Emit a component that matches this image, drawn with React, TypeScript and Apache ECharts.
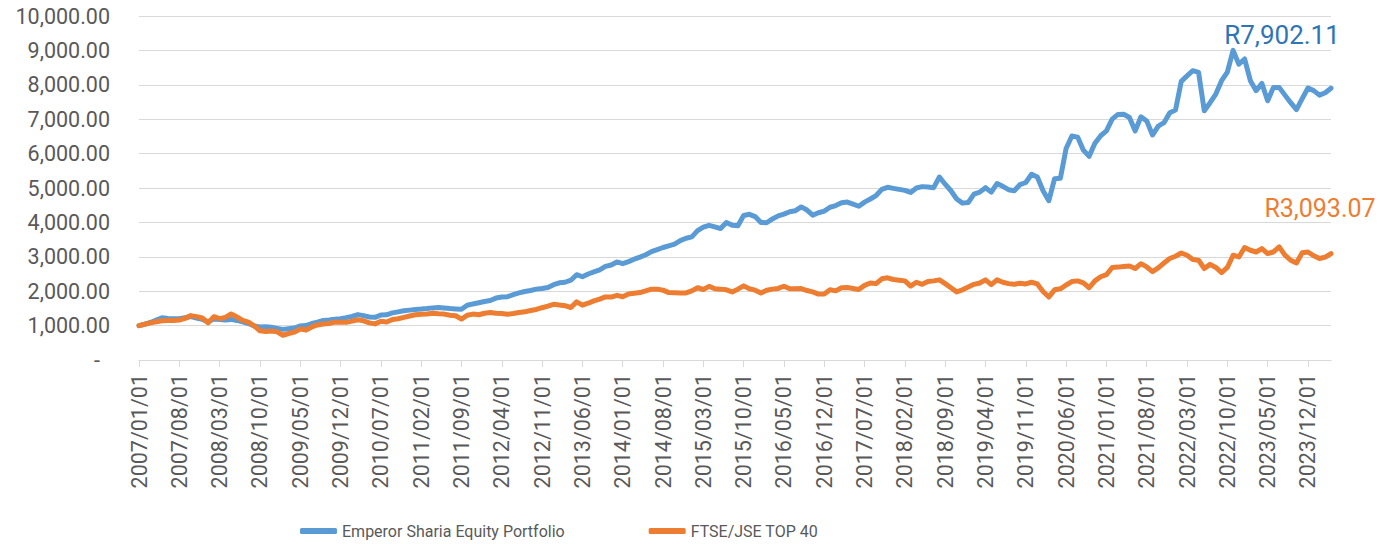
import React, { useEffect, useRef } from "react";
import * as echarts from "echarts";

const START_YEAR = 2007;
const MONTH_COUNT = 208;

const emperorValues: number[] = [
  // 2007
  1000, 1040, 1090, 1160, 1230, 1210, 1200, 1200, 1230, 1260, 1220, 1180,
  // 2008
  1110, 1190, 1180, 1160, 1180, 1150, 1110, 1060, 990, 960, 970, 950,
  // 2009
  920, 890, 910, 930, 990, 1000, 1060, 1100, 1150, 1165, 1185, 1200,
  // 2010
  1230, 1270, 1320, 1290, 1250, 1240, 1310, 1315, 1370, 1400, 1430, 1450,
  // 2011
  1470, 1480, 1495, 1515, 1525, 1510, 1495, 1485, 1475, 1590, 1630, 1665,
  // 2012
  1700, 1730, 1800, 1830, 1840, 1900, 1950, 1990, 2020, 2060, 2080, 2110,
  // 2013
  2190, 2245, 2260, 2320, 2480, 2420, 2500, 2560, 2620, 2720, 2760, 2850,
  // 2014
  2800, 2860, 2930, 2990, 3060, 3150, 3210, 3270, 3320, 3370, 3470, 3540,
  // 2015
  3580, 3760, 3860, 3915, 3870, 3820, 3995, 3920, 3900, 4200, 4235, 4170,
  // 2016
  4000, 3990, 4100, 4190, 4240, 4310, 4340, 4450, 4360, 4210, 4280, 4330,
  // 2017
  4440, 4490, 4570, 4590, 4530, 4470, 4590, 4680, 4780, 4960, 5020, 4990,
  // 2018
  4960, 4930, 4870, 5000, 5040, 5030, 5010, 5320, 5110, 4920, 4680, 4560,
  // 2019
  4580, 4820, 4880, 5010, 4880, 5130, 5050, 4950, 4920, 5100, 5160, 5400,
  // 2020
  5320, 4920, 4630, 5270, 5280, 6150, 6510, 6480, 6100, 5920, 6300, 6520,
  // 2021
  6660, 7000, 7140, 7145, 7050, 6660, 7070, 6950, 6540, 6800, 6900, 7190,
  // 2022
  7265, 8100, 8260, 8410, 8360, 7245, 7480, 7730, 8120, 8370, 9000, 8600,
  // 2023
  8750, 8120, 7830, 8040, 7535, 7925, 7925, 7700, 7480, 7280, 7600, 7905,
  // 2024
  7830, 7700, 7770, 7902.11,
];

const top40Values: number[] = [
  // 2007
  1000, 1040, 1080, 1110, 1140, 1150, 1150, 1160, 1210, 1290, 1260, 1220,
  // 2008
  1080, 1260, 1200, 1240, 1340, 1250, 1150, 1100, 990, 850, 830, 840,
  // 2009
  820, 720, 770, 810, 900, 870, 960, 1020, 1045, 1060, 1100, 1100,
  // 2010
  1095, 1130, 1170, 1140, 1080, 1050, 1125, 1105, 1180, 1200, 1240, 1280,
  // 2011
  1315, 1330, 1340, 1360, 1345, 1335, 1300, 1285, 1190, 1300, 1335, 1315,
  // 2012
  1360, 1380, 1360, 1350, 1330, 1350, 1380, 1400, 1440, 1470, 1520, 1565,
  // 2013
  1620, 1600, 1580, 1525, 1690, 1595, 1650, 1720, 1770, 1835, 1830, 1880,
  // 2014
  1840, 1920, 1940, 1960, 2010, 2060, 2060, 2030, 1960, 1955, 1950, 1950,
  // 2015
  2010, 2100, 2050, 2140, 2070, 2060, 2040, 1980, 2060, 2155, 2070, 2030,
  // 2016
  1950, 2030, 2060, 2080, 2145, 2070, 2070, 2075, 2020, 1980, 1915, 1920,
  // 2017
  2040, 2010, 2100, 2105, 2080, 2050, 2170, 2240, 2220, 2360, 2390, 2340,
  // 2018
  2320, 2300, 2150, 2260, 2200, 2280, 2300, 2330, 2220, 2100, 1980, 2040,
  // 2019
  2120, 2200, 2240, 2330, 2190, 2330, 2260, 2220, 2200, 2230, 2210, 2260,
  // 2020
  2210, 1990, 1830, 2040, 2070, 2180, 2280, 2300, 2240, 2100, 2300, 2420,
  // 2021
  2480, 2690, 2700, 2720, 2735, 2660, 2800, 2705, 2570, 2680, 2820, 2950,
  // 2022
  3015, 3110, 3045, 2920, 2900, 2660, 2780, 2690, 2540, 2690, 3045, 2995,
  // 2023
  3270, 3190, 3140, 3240, 3095, 3140, 3290, 3050, 2900, 2820, 3115, 3140,
  // 2024
  3030, 2950, 2990, 3093.07,
];

const seriesNames = ["Emperor Sharia Equity Portfolio", "FTSE/JSE TOP 40"];

const dateLabels: string[] = [];
for (let i = 0; i < MONTH_COUNT; i++) {
  const y = START_YEAR + Math.floor(i / 12);
  const m = (i % 12) + 1;
  dateLabels.push(`${y}/${m < 10 ? "0" + m : m}/01`);
}

const fmt = (v: number) =>
  v.toLocaleString("en-US", { minimumFractionDigits: 2, maximumFractionDigits: 2 });

const FONT = "Roboto, 'Noto Sans', sans-serif";
const GREY = "#595959";
const BLUE = "#5B9BD5";
const ORANGE = "#ED7D31";

export default function App() {
  const ref = useRef<HTMLDivElement>(null);

  useEffect(() => {
    if (!ref.current) return;
    const chart = echarts.init(ref.current, null, { renderer: "svg" });
    const last = MONTH_COUNT - 1;
    const option: any = {
      animation: false,
      backgroundColor: "#FFFFFF",
      grid: { left: 139, right: 50, top: 16, height: 344 },
      legend: {
        data: seriesNames,
        left: 295,
        top: 518,
        icon: "roundRect",
        itemWidth: 37,
        itemHeight: 6,
        itemGap: 84,
        textStyle: {
          fontSize: 16,
          fontFamily: FONT,
          color: GREY,
        },
      },
      xAxis: {
        type: "category",
        data: dateLabels,
        boundaryGap: false,
        axisLine: { lineStyle: { color: "#D9D9D9", width: 1 } },
        axisTick: { show: true, interval: 6, length: 7, lineStyle: { color: "#D9D9D9" } },
        axisLabel: {
          interval: 6,
          rotate: 90,
          margin: 14,
          color: GREY,
          fontSize: 21.5,
          fontFamily: FONT,
        },
        splitLine: { show: false },
      },
      yAxis: {
        type: "value",
        min: 0,
        max: 10000,
        interval: 1000,
        axisLine: { show: false },
        axisTick: { show: false },
        splitLine: { lineStyle: { color: "#D9D9D9", width: 1 } },
        axisLabel: {
          margin: 29,
          color: GREY,
          fontSize: 21.5,
          fontFamily: FONT,
          formatter: (v: number) => (v === 0 ? "{d|-}" : fmt(v)),
          rich: { d: { padding: [0, 10, 0, 0], color: GREY, fontSize: 21.5, fontFamily: FONT } },
        },
      },
      series: [
        {
          name: seriesNames[0],
          type: "line",
          data: emperorValues,
          showSymbol: false,
          symbol: "none",
          color: BLUE,
          lineStyle: { width: 5, color: BLUE, cap: "round", join: "round" },
          markPoint: {
            symbol: "circle",
            symbolSize: 0,
            silent: true,
            data: [{ coord: [last, emperorValues[last]], value: emperorValues[last] }],
            label: {
              show: true,
              position: "inside",
              offset: [-49, -53],
              formatter: (p: any) => "R" + fmt(p.value),
              color: "#2E75B6",
              fontSize: 26,
              fontFamily: FONT,
            },
          },
        },
        {
          name: seriesNames[1],
          type: "line",
          data: top40Values,
          showSymbol: false,
          symbol: "none",
          color: ORANGE,
          lineStyle: { width: 5, color: ORANGE, cap: "round", join: "round" },
          markPoint: {
            symbol: "circle",
            symbolSize: 0,
            silent: true,
            data: [{ coord: [last, top40Values[last]], value: top40Values[last] }],
            label: {
              show: true,
              position: "inside",
              offset: [-11, -45],
              formatter: (p: any) => "R" + fmt(p.value),
              color: ORANGE,
              fontSize: 25,
              fontFamily: FONT,
            },
          },
        },
      ],
    };
    chart.setOption(option);
    return () => chart.dispose();
  }, []);

  return (
    <div
      ref={ref}
      style={{ position: "absolute", left: 0, top: 0, width: 1381, height: 544 }}
    />
  );
}
